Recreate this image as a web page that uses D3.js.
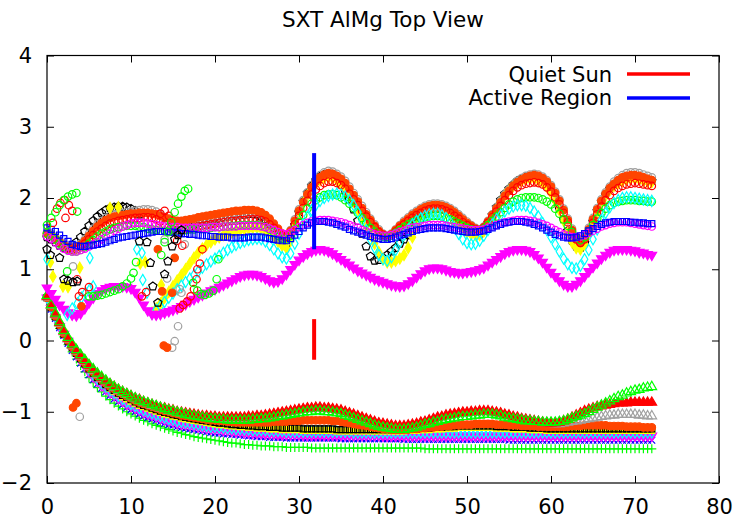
<!DOCTYPE html>
<html>
<head>
<meta charset="utf-8">
<script src="https://cdn.jsdelivr.net/npm/d3@7"></script>
<style>
  body { margin: 0; background: #fff; }
  text { font-family: "DejaVu Sans", "Liberation Sans", Arial, sans-serif; fill: #000; }
</style>
</head>
<body>
<svg id="chart" width="743" height="520"></svg>
<script>
// ---- axis ticks ----
const xTickValues = [0, 10, 20, 30, 40, 50, 60, 70, 80];
const yTickValues = [-2, -1, 0, 1, 2, 3, 4];
const titleText = "SXT AlMg Top View";

// ---- sampling grid: every curve is sampled at x = 0, 0.5, ... 72 ----
const sampleX = d3.range(145).map(i => i * 0.5);

// ---- upper family (ratio curves) ----
const upGray = [
  1.52,1.5,1.45,1.4,1.36,1.33,1.32,1.33,1.36,1.42,
  1.5,1.57,1.63,1.68,1.72,1.75,1.77,1.78,1.79,1.8,
  1.81,1.82,1.83,1.84,1.84,1.83,1.81,1.77,1.72,1.67,
  1.63,1.61,1.6,1.61,1.62,1.64,1.66,1.67,1.69,1.7,
  1.71,1.72,1.73,1.74,1.75,1.76,1.77,1.78,1.79,1.79,
  1.79,1.77,1.74,1.69,1.63,1.56,1.5,1.47,1.55,1.7,
  1.84,1.97,2.08,2.18,2.26,2.32,2.36,2.38,2.37,2.34,
  2.3,2.24,2.16,2.07,1.98,1.89,1.8,1.71,1.63,1.56,
  1.5,1.47,1.5,1.56,1.62,1.68,1.73,1.78,1.82,1.86,
  1.89,1.91,1.92,1.92,1.91,1.89,1.86,1.82,1.77,1.72,
  1.67,1.62,1.58,1.56,1.6,1.68,1.77,1.87,1.96,2.05,
  2.12,2.19,2.24,2.28,2.31,2.33,2.34,2.33,2.3,2.25,
  2.18,2.09,1.98,1.85,1.71,1.57,1.45,1.39,1.45,1.58,
  1.72,1.86,1.98,2.08,2.16,2.23,2.28,2.32,2.35,2.36,
  2.36,2.35,2.33,2.31,2.29];
const upOrange = [
  1.5,1.48,1.43,1.38,1.34,1.31,1.3,1.31,1.34,1.4,
  1.47,1.54,1.6,1.65,1.69,1.72,1.74,1.75,1.76,1.77,
  1.78,1.78,1.79,1.79,1.79,1.78,1.77,1.75,1.73,1.71,
  1.69,1.68,1.68,1.69,1.7,1.71,1.73,1.74,1.75,1.76,
  1.77,1.78,1.79,1.8,1.81,1.82,1.82,1.83,1.83,1.83,
  1.82,1.8,1.76,1.71,1.64,1.57,1.5,1.47,1.54,1.68,
  1.82,1.94,2.05,2.15,2.23,2.29,2.33,2.35,2.34,2.31,
  2.27,2.21,2.13,2.04,1.95,1.86,1.77,1.69,1.61,1.54,
  1.49,1.46,1.49,1.55,1.61,1.66,1.71,1.76,1.8,1.84,
  1.87,1.89,1.9,1.9,1.89,1.87,1.84,1.8,1.75,1.7,
  1.65,1.61,1.57,1.55,1.59,1.67,1.76,1.85,1.94,2.03,
  2.1,2.17,2.22,2.26,2.29,2.31,2.32,2.31,2.28,2.23,
  2.16,2.07,1.96,1.83,1.69,1.55,1.43,1.37,1.43,1.56,
  1.7,1.84,1.96,2.06,2.14,2.2,2.25,2.29,2.31,2.32,
  2.32,2.31,2.29,2.27,2.25];
const upRed = [
  1.5,1.47,1.42,1.37,1.32,1.29,1.27,1.28,1.31,1.36,
  1.42,1.48,1.53,1.57,1.61,1.64,1.66,1.68,1.69,1.7,
  1.71,1.72,1.72,1.73,1.73,1.72,1.7,1.67,1.63,1.59,
  1.56,1.55,1.55,1.56,1.57,1.58,1.6,1.61,1.62,1.63,
  1.64,1.65,1.66,1.67,1.68,1.68,1.69,1.69,1.7,1.7,
  1.7,1.69,1.67,1.63,1.58,1.52,1.47,1.45,1.51,1.63,
  1.75,1.86,1.96,2.05,2.12,2.17,2.21,2.23,2.23,2.21,
  2.18,2.13,2.06,1.98,1.9,1.82,1.74,1.66,1.59,1.52,
  1.48,1.46,1.48,1.53,1.58,1.63,1.68,1.72,1.76,1.79,
  1.82,1.84,1.85,1.85,1.84,1.82,1.79,1.75,1.71,1.66,
  1.62,1.58,1.56,1.55,1.58,1.65,1.73,1.81,1.89,1.97,
  2.04,2.1,2.15,2.18,2.2,2.21,2.22,2.21,2.19,2.15,
  2.09,2.01,1.91,1.79,1.66,1.53,1.42,1.37,1.42,1.53,
  1.65,1.77,1.88,1.97,2.04,2.1,2.14,2.17,2.19,2.2,
  2.21,2.2,2.19,2.18,2.17];
const upYellow = [
  null,null,null,null,null,null,null,null,null,null,
  null,null,null,null,null,null,null,null,null,null,
  null,null,null,null,null,0.39,0.45,0.52,0.6,0.68,
  0.76,0.84,0.92,1.0,1.08,1.16,1.23,1.29,1.34,1.38,
  1.42,1.45,1.48,1.5,1.52,1.54,1.55,1.56,1.57,1.58,
  1.58,1.57,1.55,1.51,1.45,1.39,1.33,1.3,1.4,1.6,
  1.8,1.93,2.04,2.13,2.2,2.25,2.28,2.29,2.28,2.25,
  2.2,2.13,2.04,1.94,1.83,1.72,1.6,1.48,1.36,1.24,
  1.14,1.1,1.1,1.12,1.15,1.2,1.3,1.45,1.6,1.72,
  1.8,1.84,1.86,1.87,1.86,1.83,1.78,1.72,1.65,1.58,
  1.52,1.49,1.48,1.48,1.53,1.63,1.74,1.85,1.95,2.04,
  2.11,2.17,2.21,2.24,2.26,2.27,2.27,2.25,2.22,2.16,
  2.07,1.96,1.83,1.68,1.52,1.38,1.3,1.28,1.35,1.5,
  1.65,1.8,1.93,2.03,2.11,2.17,2.21,2.24,2.26,2.27,
  2.27,2.26,2.24,2.23,2.22];
const upBlack = [
  1.45,1.42,1.38,1.33,1.3,1.3,1.33,1.38,1.45,1.53,
  1.61,1.68,1.74,1.79,1.83,1.86,1.87,1.88,1.88,1.87,
  1.85,1.82,1.77,null,null,null,null,null,null,null,
  null,null,null,null,1.6,1.63,1.65,1.67,1.69,1.7,
  1.71,1.72,1.73,1.74,1.75,1.76,1.77,1.77,1.78,1.78,
  1.77,1.74,1.7,1.63,1.55,1.46,1.38,1.35,1.45,1.62,
  1.8,1.95,2.07,2.17,2.25,2.3,2.33,2.34,2.33,2.3,
  2.2,2.1,1.98,1.84,1.68,1.5,1.32,1.18,1.12,1.13,
  1.16,1.2,1.25,1.3,1.36,1.42,1.48,1.56,1.64,1.72,
  1.78,1.83,1.86,1.87,1.86,1.83,1.79,1.73,1.67,1.61,
  1.56,1.52,1.5,1.5,1.56,1.65,1.76,1.87,1.97,2.06,
  2.13,2.19,2.24,2.27,2.29,2.3,2.3,2.28,2.25,2.19,
  2.1,1.99,1.85,1.7,1.54,1.4,1.32,1.3,1.37,1.52,
  1.67,1.82,1.95,2.05,2.13,2.19,2.23,2.26,2.28,2.29,
  2.29,2.28,2.26,2.25,2.24];
const upGreen = [
  1.5,1.47,1.42,1.36,1.31,1.27,1.25,1.25,1.27,1.31,
  1.36,1.41,1.46,1.5,1.53,1.56,1.58,1.59,1.6,1.61,
  1.61,1.61,1.6,1.59,1.57,1.56,1.55,1.54,1.54,1.54,
  1.54,1.54,1.55,1.55,1.56,1.56,1.57,1.57,1.58,1.58,
  1.59,1.59,1.6,1.6,1.61,1.61,1.62,1.62,1.62,1.62,
  1.62,1.61,1.59,1.56,1.52,1.47,1.43,1.42,1.47,1.56,
  1.66,1.76,1.85,1.92,1.97,2.01,2.04,2.05,2.05,2.04,
  2.01,1.97,1.92,1.86,1.79,1.72,1.65,1.58,1.53,1.48,
  1.46,1.45,1.47,1.51,1.55,1.59,1.63,1.66,1.69,1.71,
  1.73,1.74,1.75,1.75,1.74,1.72,1.7,1.67,1.64,1.61,
  1.58,1.56,1.55,1.55,1.57,1.62,1.68,1.74,1.8,1.86,
  1.91,1.95,1.98,2.0,2.01,2.01,2.01,2.0,1.98,1.95,
  1.91,1.85,1.78,1.7,1.61,1.52,1.45,1.41,1.45,1.53,
  1.62,1.71,1.79,1.85,1.9,1.93,1.95,1.96,1.97,1.97,
  1.97,1.96,1.96,1.95,1.95];
const upCyan = [
  null,null,null,null,null,null,null,null,null,null,
  null,null,null,null,null,null,null,null,null,null,
  null,null,null,null,null,0.38,0.43,0.48,0.54,0.6,
  0.66,0.72,0.77,0.82,0.87,0.92,0.97,1.02,1.07,1.11,
  1.15,1.19,1.23,1.27,1.31,1.34,1.37,1.39,1.41,1.42,
  1.43,1.42,1.39,1.34,1.28,1.22,1.17,1.15,1.22,1.36,
  1.5,1.63,1.74,1.83,1.9,1.96,2.0,2.03,2.05,2.06,
  2.05,2.02,1.97,1.9,1.8,1.68,1.55,1.42,1.3,1.2,
  1.14,1.12,1.17,1.27,1.38,1.48,1.56,1.63,1.68,1.72,
  1.75,1.77,1.78,1.78,1.76,1.72,1.66,1.58,1.5,1.42,
  1.37,1.35,1.36,1.4,1.47,1.55,1.63,1.7,1.76,1.81,
  1.85,1.88,1.9,1.9,1.89,1.86,1.81,1.74,1.65,1.55,
  1.45,1.35,1.25,1.15,1.07,1.02,1.01,1.05,1.14,1.27,
  1.42,1.56,1.69,1.79,1.87,1.93,1.97,2.0,2.01,2.01,
  2.0,1.99,1.98,1.97,1.96];
const upMagenta = [
  1.46,1.43,1.38,1.33,1.29,1.26,1.25,1.25,1.27,1.29,
  1.32,1.35,1.38,1.42,1.46,1.5,1.54,1.57,1.6,1.62,
  1.64,1.65,1.65,1.65,1.64,1.63,1.62,1.61,1.6,1.6,
  1.59,1.59,1.58,1.58,1.58,1.58,1.58,1.58,1.58,1.59,
  1.59,1.59,1.6,1.6,1.6,1.6,1.61,1.61,1.61,1.61,
  1.61,1.6,1.59,1.57,1.55,1.52,1.5,1.49,1.51,1.55,
  1.59,1.62,1.65,1.67,1.68,1.69,1.69,1.69,1.68,1.67,
  1.66,1.64,1.62,1.6,1.58,1.55,1.53,1.51,1.49,1.48,
  1.47,1.47,1.48,1.5,1.52,1.54,1.56,1.58,1.59,1.6,
  1.61,1.62,1.62,1.62,1.62,1.61,1.6,1.59,1.58,1.57,
  1.56,1.55,1.55,1.55,1.56,1.58,1.6,1.62,1.64,1.66,
  1.67,1.68,1.69,1.69,1.69,1.68,1.67,1.65,1.63,1.61,
  1.58,1.55,1.52,1.49,1.47,1.45,1.45,1.46,1.48,1.51,
  1.54,1.57,1.6,1.62,1.64,1.65,1.66,1.66,1.66,1.65,
  1.64,1.63,1.62,1.61,1.6];
const upBlue = [
  1.58,1.56,1.53,1.48,1.43,1.39,1.35,1.33,1.32,1.32,
  1.33,1.34,1.35,1.36,1.38,1.4,1.42,1.44,1.45,1.46,
  1.47,1.48,1.49,1.5,1.51,1.52,1.53,1.53,1.53,1.52,
  1.52,1.51,1.5,1.5,1.49,1.49,1.48,1.47,1.47,1.46,
  1.46,1.45,1.45,1.45,1.44,1.44,1.44,1.44,1.45,1.45,
  1.45,1.45,1.44,1.43,1.42,1.41,1.4,1.4,1.43,1.48,
  1.53,1.58,1.62,1.65,1.67,1.67,1.67,1.66,1.65,1.63,
  1.61,1.59,1.56,1.54,1.52,1.5,1.48,1.46,1.44,1.43,
  1.42,1.42,1.43,1.45,1.47,1.49,1.51,1.53,1.55,1.56,
  1.57,1.58,1.58,1.58,1.58,1.57,1.56,1.55,1.54,1.53,
  1.52,1.52,1.52,1.53,1.54,1.56,1.58,1.61,1.63,1.65,
  1.66,1.67,1.67,1.67,1.66,1.65,1.63,1.61,1.58,1.55,
  1.52,1.49,1.47,1.45,1.44,1.44,1.45,1.47,1.5,1.54,
  1.57,1.6,1.63,1.65,1.66,1.67,1.67,1.67,1.67,1.66,
  1.66,1.65,1.65,1.64,1.64];
const upMagentaTri = [
  0.74,0.66,0.58,0.5,0.44,0.39,0.36,0.35,0.38,0.45,
  0.53,0.6,0.66,0.7,0.73,0.75,0.76,0.76,0.76,0.75,
  0.73,0.68,0.6,0.5,0.42,0.37,0.36,0.37,0.39,0.41,
  0.43,0.45,0.48,0.51,0.55,0.58,0.61,0.64,0.67,0.7,
  0.72,0.75,0.78,0.81,0.84,0.87,0.9,0.92,0.93,0.93,
  0.92,0.9,0.87,0.84,0.82,0.83,0.87,0.93,1.0,1.07,
  1.13,1.18,1.22,1.25,1.27,1.28,1.27,1.25,1.22,1.18,
  1.14,1.1,1.06,1.02,0.98,0.95,0.92,0.89,0.86,0.84,
  0.82,0.8,0.78,0.77,0.76,0.77,0.8,0.84,0.89,0.94,
  0.98,1.01,1.02,1.02,1.01,0.99,0.97,0.96,0.95,0.95,
  0.96,0.97,0.98,1.0,1.02,1.06,1.1,1.14,1.18,1.22,
  1.25,1.27,1.28,1.28,1.27,1.25,1.21,1.16,1.1,1.03,
  0.96,0.9,0.84,0.79,0.76,0.76,0.79,0.84,0.9,0.97,
  1.03,1.09,1.15,1.2,1.24,1.27,1.28,1.28,1.28,1.27,
  1.26,1.24,1.23,1.21,1.2];

// ---- lower family (decay curves) ----
const lowGreenTri = [
  0.63,0.5,0.38,0.26,0.14,0.04,-0.05,-0.13,-0.2,-0.27,
  -0.34,-0.4,-0.46,-0.51,-0.56,-0.61,-0.65,-0.69,-0.72,-0.75,
  -0.78,-0.81,-0.84,-0.86,-0.88,-0.9,-0.92,-0.94,-0.96,-0.98,
  -0.99,-1.01,-1.02,-1.04,-1.05,-1.06,-1.07,-1.08,-1.09,-1.1,
  -1.1,-1.11,-1.11,-1.12,-1.12,-1.12,-1.12,-1.12,-1.12,-1.11,
  -1.11,-1.1,-1.1,-1.09,-1.08,-1.07,-1.06,-1.05,-1.04,-1.03,
  -1.02,-1.01,-1.0,-1.0,-0.99,-0.99,-1.0,-1.0,-1.01,-1.02,
  -1.03,-1.05,-1.07,-1.09,-1.11,-1.13,-1.15,-1.17,-1.19,-1.21,
  -1.22,-1.23,-1.24,-1.25,-1.25,-1.25,-1.24,-1.23,-1.22,-1.2,
  -1.18,-1.17,-1.15,-1.14,-1.12,-1.11,-1.1,-1.09,-1.08,-1.07,
  -1.07,-1.06,-1.05,-1.05,-1.04,-1.04,-1.04,-1.05,-1.06,-1.08,
  -1.09,-1.1,-1.11,-1.12,-1.13,-1.13,-1.14,-1.14,-1.15,-1.15,
  -1.15,-1.15,-1.14,-1.13,-1.11,-1.09,-1.07,-1.05,-1.03,-1.0,
  -0.97,-0.94,-0.91,-0.88,-0.85,-0.82,-0.79,-0.77,-0.74,-0.72,
  -0.7,-0.69,-0.67,-0.66,-0.65];
const lowRedTri = [
  0.62,0.5,0.37,0.25,0.13,0.03,-0.06,-0.14,-0.21,-0.28,
  -0.35,-0.41,-0.47,-0.52,-0.57,-0.61,-0.65,-0.69,-0.72,-0.75,
  -0.78,-0.81,-0.83,-0.86,-0.88,-0.9,-0.92,-0.94,-0.95,-0.97,
  -0.98,-1.0,-1.01,-1.02,-1.03,-1.04,-1.05,-1.06,-1.06,-1.07,
  -1.07,-1.08,-1.08,-1.08,-1.08,-1.08,-1.08,-1.08,-1.07,-1.07,
  -1.06,-1.06,-1.05,-1.04,-1.03,-1.02,-1.01,-1.0,-0.99,-0.98,
  -0.97,-0.96,-0.95,-0.95,-0.94,-0.94,-0.95,-0.95,-0.96,-0.97,
  -0.98,-1.0,-1.02,-1.04,-1.06,-1.08,-1.1,-1.12,-1.14,-1.16,
  -1.17,-1.18,-1.19,-1.2,-1.2,-1.2,-1.19,-1.18,-1.17,-1.15,
  -1.14,-1.12,-1.1,-1.08,-1.07,-1.05,-1.04,-1.03,-1.02,-1.01,
  -1.01,-1.0,-1.0,-0.99,-0.99,-0.99,-1.0,-1.01,-1.02,-1.04,
  -1.05,-1.07,-1.08,-1.1,-1.11,-1.12,-1.13,-1.14,-1.15,-1.16,
  -1.16,-1.16,-1.15,-1.13,-1.11,-1.08,-1.05,-1.02,-0.99,-0.97,
  -0.95,-0.93,-0.92,-0.91,-0.9,-0.89,-0.88,-0.88,-0.88,-0.87,
  -0.87,-0.87,-0.87,-0.87,-0.87];
const lowGrayTri = [
  0.61,0.49,0.36,0.24,0.12,0.02,-0.07,-0.15,-0.22,-0.29,
  -0.36,-0.42,-0.48,-0.53,-0.58,-0.62,-0.66,-0.7,-0.73,-0.76,
  -0.79,-0.82,-0.84,-0.87,-0.89,-0.91,-0.93,-0.95,-0.96,-0.98,
  -0.99,-1.01,-1.02,-1.03,-1.04,-1.05,-1.06,-1.07,-1.07,-1.08,
  -1.08,-1.09,-1.09,-1.09,-1.09,-1.09,-1.09,-1.09,-1.08,-1.08,
  -1.07,-1.07,-1.06,-1.05,-1.04,-1.03,-1.02,-1.01,-1.0,-0.99,
  -0.98,-0.97,-0.96,-0.96,-0.95,-0.95,-0.96,-0.96,-0.97,-0.98,
  -0.99,-1.01,-1.03,-1.05,-1.07,-1.09,-1.11,-1.13,-1.15,-1.17,
  -1.18,-1.19,-1.2,-1.21,-1.21,-1.21,-1.2,-1.19,-1.18,-1.16,
  -1.15,-1.13,-1.11,-1.09,-1.08,-1.06,-1.05,-1.04,-1.03,-1.02,
  -1.02,-1.01,-1.01,-1.0,-1.0,-1.0,-1.01,-1.02,-1.03,-1.05,
  -1.06,-1.08,-1.09,-1.1,-1.11,-1.12,-1.13,-1.14,-1.15,-1.16,
  -1.16,-1.17,-1.17,-1.16,-1.15,-1.14,-1.13,-1.12,-1.11,-1.1,
  -1.09,-1.08,-1.07,-1.06,-1.05,-1.05,-1.04,-1.04,-1.04,-1.04,
  -1.04,-1.05,-1.05,-1.06,-1.06];
const lowOrange = [
  0.6,0.47,0.34,0.22,0.1,0.0,-0.09,-0.17,-0.24,-0.31,
  -0.38,-0.44,-0.5,-0.55,-0.6,-0.64,-0.68,-0.72,-0.75,-0.78,
  -0.81,-0.84,-0.87,-0.89,-0.91,-0.93,-0.95,-0.97,-0.99,-1.0,
  -1.02,-1.03,-1.05,-1.06,-1.07,-1.08,-1.09,-1.1,-1.11,-1.12,
  -1.12,-1.13,-1.13,-1.14,-1.14,-1.15,-1.15,-1.15,-1.15,-1.15,
  -1.15,-1.15,-1.15,-1.15,-1.14,-1.14,-1.14,-1.14,-1.13,-1.13,
  -1.13,-1.12,-1.12,-1.12,-1.12,-1.12,-1.12,-1.12,-1.13,-1.13,
  -1.14,-1.15,-1.16,-1.17,-1.18,-1.19,-1.2,-1.21,-1.22,-1.23,
  -1.24,-1.24,-1.25,-1.25,-1.25,-1.25,-1.25,-1.24,-1.24,-1.23,
  -1.23,-1.22,-1.22,-1.21,-1.21,-1.2,-1.2,-1.19,-1.19,-1.18,
  -1.18,-1.18,-1.17,-1.17,-1.17,-1.17,-1.17,-1.18,-1.18,-1.18,
  -1.19,-1.19,-1.19,-1.2,-1.2,-1.2,-1.2,-1.21,-1.21,-1.21,
  -1.21,-1.21,-1.21,-1.21,-1.21,-1.2,-1.2,-1.2,-1.19,-1.19,
  -1.19,-1.19,-1.19,-1.19,-1.2,-1.2,-1.2,-1.2,-1.21,-1.21,
  -1.21,-1.21,-1.22,-1.22,-1.22];
const lowBlack = [
  0.6,0.46,0.33,0.21,0.09,-0.01,-0.1,-0.18,-0.26,-0.33,
  -0.4,-0.46,-0.52,-0.57,-0.62,-0.66,-0.7,-0.74,-0.77,-0.8,
  -0.83,-0.86,-0.89,-0.91,-0.93,-0.95,-0.97,-0.99,-1.01,-1.02,
  -1.04,-1.05,-1.07,-1.08,-1.09,-1.1,-1.11,-1.12,-1.13,-1.14,
  -1.15,-1.16,-1.16,-1.17,-1.18,-1.18,-1.19,-1.19,-1.2,-1.2,
  -1.21,-1.21,-1.21,-1.22,-1.22,-1.22,-1.23,-1.23,-1.23,-1.23,
  -1.23,-1.24,-1.24,-1.24,-1.24,-1.24,-1.24,-1.24,-1.24,-1.25,
  -1.25,-1.25,-1.25,-1.25,-1.25,-1.25,-1.25,-1.25,-1.25,-1.25,
  -1.25,-1.25,-1.25,-1.25,-1.25,-1.25,-1.24,-1.24,-1.24,-1.23,
  -1.23,-1.23,-1.22,-1.22,-1.22,-1.21,-1.21,-1.21,-1.2,-1.2,
  -1.2,-1.2,-1.2,-1.2,-1.2,-1.2,-1.2,-1.21,-1.21,-1.21,
  -1.21,-1.22,-1.22,-1.22,-1.22,-1.23,-1.23,-1.23,-1.23,-1.24,
  -1.24,-1.24,-1.24,-1.24,-1.24,-1.24,-1.24,-1.24,-1.24,-1.24,
  -1.24,-1.24,-1.24,-1.24,-1.24,-1.24,-1.24,-1.24,-1.24,-1.24,
  -1.24,-1.24,-1.24,-1.24,-1.24];
const lowYellow = [
  0.6,0.47,0.34,0.22,0.11,0.01,-0.08,-0.17,-0.25,-0.32,
  -0.39,-0.46,-0.52,-0.57,-0.62,-0.67,-0.71,-0.75,-0.79,-0.82,
  -0.85,-0.88,-0.91,-0.93,-0.95,-0.97,-0.99,-1.01,-1.03,-1.04,
  -1.06,-1.07,-1.09,-1.1,-1.11,-1.12,-1.13,-1.14,-1.15,-1.16,
  -1.17,-1.18,-1.18,-1.19,-1.2,-1.2,-1.21,-1.21,-1.22,-1.22,
  -1.23,-1.23,-1.23,-1.24,-1.24,-1.24,-1.25,-1.25,-1.25,-1.25,
  -1.25,-1.26,-1.26,-1.26,-1.26,-1.26,-1.26,-1.26,-1.26,-1.27,
  -1.27,-1.27,-1.27,-1.27,-1.27,-1.27,-1.27,-1.27,-1.27,-1.27,
  -1.27,-1.27,-1.27,-1.27,-1.27,-1.27,-1.26,-1.26,-1.26,-1.25,
  -1.25,-1.25,-1.24,-1.24,-1.24,-1.23,-1.23,-1.23,-1.22,-1.22,
  -1.22,-1.22,-1.22,-1.22,-1.22,-1.22,-1.22,-1.23,-1.23,-1.23,
  -1.23,-1.24,-1.24,-1.24,-1.24,-1.25,-1.25,-1.25,-1.25,-1.26,
  -1.26,-1.26,-1.26,-1.26,-1.26,-1.26,-1.26,-1.26,-1.26,-1.26,
  -1.26,-1.26,-1.26,-1.26,-1.26,-1.26,-1.26,-1.26,-1.26,-1.26,
  -1.26,-1.26,-1.26,-1.26,-1.26];
const lowCyan = [
  0.6,0.46,0.33,0.22,0.11,0.01,-0.08,-0.17,-0.25,-0.33,
  -0.41,-0.48,-0.54,-0.6,-0.65,-0.7,-0.74,-0.78,-0.82,-0.86,
  -0.89,-0.92,-0.95,-0.98,-1.0,-1.02,-1.04,-1.06,-1.08,-1.1,
  -1.11,-1.13,-1.14,-1.15,-1.16,-1.17,-1.18,-1.19,-1.2,-1.21,
  -1.21,-1.22,-1.22,-1.23,-1.23,-1.24,-1.24,-1.25,-1.25,-1.26,
  -1.26,-1.26,-1.26,-1.27,-1.27,-1.27,-1.27,-1.28,-1.28,-1.28,
  -1.28,-1.28,-1.28,-1.28,-1.28,-1.28,-1.28,-1.28,-1.28,-1.28,
  -1.28,-1.28,-1.28,-1.29,-1.29,-1.29,-1.29,-1.29,-1.29,-1.29,
  -1.29,-1.29,-1.29,-1.29,-1.29,-1.29,-1.29,-1.29,-1.29,-1.29,
  -1.29,-1.29,-1.29,-1.29,-1.29,-1.29,-1.29,-1.29,-1.29,-1.29,
  -1.29,-1.29,-1.29,-1.29,-1.29,-1.29,-1.29,-1.29,-1.29,-1.29,
  -1.29,-1.29,-1.29,-1.29,-1.29,-1.29,-1.29,-1.29,-1.29,-1.29,
  -1.29,-1.29,-1.29,-1.29,-1.29,-1.29,-1.29,-1.29,-1.29,-1.29,
  -1.29,-1.29,-1.29,-1.29,-1.29,-1.29,-1.29,-1.29,-1.29,-1.29,
  -1.29,-1.29,-1.29,-1.29,-1.29];
const lowMagenta = [
  0.6,0.45,0.32,0.2,0.09,-0.01,-0.11,-0.2,-0.28,-0.36,
  -0.44,-0.51,-0.57,-0.63,-0.68,-0.73,-0.77,-0.81,-0.85,-0.89,
  -0.92,-0.95,-0.98,-1.01,-1.03,-1.05,-1.07,-1.09,-1.11,-1.13,
  -1.14,-1.16,-1.17,-1.18,-1.19,-1.2,-1.21,-1.22,-1.23,-1.24,
  -1.24,-1.25,-1.26,-1.26,-1.27,-1.28,-1.28,-1.29,-1.29,-1.3,
  -1.3,-1.3,-1.31,-1.31,-1.31,-1.32,-1.32,-1.32,-1.32,-1.32,
  -1.32,-1.33,-1.33,-1.33,-1.33,-1.33,-1.33,-1.33,-1.33,-1.33,
  -1.33,-1.33,-1.33,-1.33,-1.33,-1.33,-1.33,-1.33,-1.33,-1.33,
  -1.34,-1.34,-1.34,-1.34,-1.34,-1.34,-1.34,-1.34,-1.34,-1.34,
  -1.34,-1.34,-1.34,-1.34,-1.34,-1.34,-1.34,-1.34,-1.34,-1.34,
  -1.34,-1.34,-1.34,-1.34,-1.34,-1.34,-1.34,-1.34,-1.34,-1.34,
  -1.34,-1.34,-1.34,-1.34,-1.34,-1.34,-1.34,-1.34,-1.34,-1.34,
  -1.34,-1.34,-1.34,-1.34,-1.34,-1.34,-1.34,-1.34,-1.34,-1.34,
  -1.34,-1.34,-1.34,-1.34,-1.34,-1.34,-1.34,-1.34,-1.34,-1.34,
  -1.34,-1.34,-1.34,-1.34,-1.34];
const lowBlue = [
  0.6,0.44,0.31,0.18,0.07,-0.04,-0.14,-0.23,-0.32,-0.4,
  -0.48,-0.55,-0.61,-0.67,-0.72,-0.77,-0.82,-0.86,-0.9,-0.94,
  -0.97,-1.0,-1.03,-1.06,-1.08,-1.1,-1.12,-1.14,-1.16,-1.18,
  -1.19,-1.21,-1.22,-1.23,-1.24,-1.25,-1.26,-1.27,-1.28,-1.29,
  -1.3,-1.3,-1.31,-1.31,-1.32,-1.32,-1.33,-1.33,-1.34,-1.34,
  -1.35,-1.35,-1.35,-1.36,-1.36,-1.36,-1.36,-1.37,-1.37,-1.37,
  -1.37,-1.37,-1.37,-1.37,-1.37,-1.37,-1.37,-1.37,-1.37,-1.37,
  -1.38,-1.38,-1.38,-1.38,-1.38,-1.38,-1.38,-1.38,-1.38,-1.38,
  -1.38,-1.38,-1.38,-1.38,-1.38,-1.39,-1.39,-1.39,-1.39,-1.39,
  -1.39,-1.39,-1.39,-1.39,-1.39,-1.39,-1.39,-1.39,-1.39,-1.39,
  -1.39,-1.39,-1.39,-1.39,-1.39,-1.39,-1.39,-1.39,-1.39,-1.39,
  -1.4,-1.4,-1.4,-1.4,-1.4,-1.4,-1.4,-1.4,-1.4,-1.4,
  -1.4,-1.4,-1.4,-1.4,-1.4,-1.4,-1.4,-1.4,-1.4,-1.4,
  -1.4,-1.4,-1.4,-1.4,-1.4,-1.4,-1.4,-1.4,-1.4,-1.4,
  -1.4,-1.4,-1.4,-1.4,-1.4];
const lowGreenPlus = [
  0.58,0.44,0.3,0.17,0.05,-0.06,-0.16,-0.26,-0.35,-0.44,
  -0.52,-0.59,-0.66,-0.72,-0.78,-0.83,-0.88,-0.92,-0.96,-1.0,
  -1.03,-1.06,-1.09,-1.12,-1.14,-1.17,-1.19,-1.21,-1.23,-1.25,
  -1.27,-1.29,-1.3,-1.32,-1.33,-1.35,-1.36,-1.37,-1.38,-1.39,
  -1.4,-1.41,-1.42,-1.43,-1.44,-1.44,-1.45,-1.46,-1.46,-1.47,
  -1.47,-1.48,-1.48,-1.48,-1.49,-1.49,-1.49,-1.5,-1.5,-1.5,
  -1.5,-1.5,-1.5,-1.51,-1.51,-1.51,-1.51,-1.51,-1.51,-1.51,
  -1.51,-1.51,-1.51,-1.51,-1.51,-1.51,-1.51,-1.51,-1.51,-1.51,
  -1.51,-1.51,-1.51,-1.51,-1.51,-1.51,-1.51,-1.51,-1.51,-1.51,
  -1.52,-1.52,-1.52,-1.52,-1.52,-1.52,-1.52,-1.52,-1.52,-1.52,
  -1.52,-1.52,-1.52,-1.52,-1.52,-1.52,-1.52,-1.52,-1.52,-1.52,
  -1.52,-1.52,-1.52,-1.52,-1.52,-1.52,-1.52,-1.52,-1.52,-1.52,
  -1.52,-1.52,-1.52,-1.52,-1.52,-1.52,-1.52,-1.52,-1.52,-1.52,
  -1.52,-1.52,-1.52,-1.52,-1.52,-1.52,-1.52,-1.52,-1.52,-1.52,
  -1.52,-1.52,-1.52,-1.52,-1.52];

// ---- isolated early points [x, y] ----
const loneRed = [[0.7,1.65],[1.2,1.85],[1.6,1.93],[2.1,1.97],[2.6,1.9],[3.0,1.82],[2.2,1.72],
  [3.6,0.86],[3.8,0.62],[4.2,0.68],[5.0,0.75],[11.3,0.62],[11.8,0.68],[13.5,1.78],[14.0,1.82],
  [14.5,1.75],[15.5,1.4],[16.1,1.33],[15.8,0.45],[16.2,0.5],[16.7,0.55],[17.1,0.62],[17.5,0.72],
  [17.8,0.86],[17.9,1.0],[18.2,1.08],[18.5,1.28]];
const loneGreen = [[0,1.62],[0.5,1.72],[1.0,1.8],[1.5,1.9],[2.0,1.97],[2.5,2.02],[3.0,2.05],[3.5,2.07],
  [3.6,1.81],[2.4,0.97],[5.0,0.62],[5.5,0.62],[6.0,0.63],[6.5,0.64],[7.0,0.66],[7.5,0.68],[8.0,0.7],
  [8.5,0.72],[9.0,0.76],[9.5,0.8],[10.0,0.87],[10.3,0.95],[10.6,1.1],[13.6,1.2],[14.0,1.38],
  [14.4,1.52],[14.8,1.66],[15.2,1.8],[15.6,1.92],[16.0,2.02],[16.4,2.1],[16.8,2.13],[17.4,0.81],
  [17.9,0.7],[18.3,0.65],[18.8,0.64],[19.3,0.66],[19.8,0.7],[20.2,0.86],[20.4,1.14]];
const loneBlack = [[0,1.28],[0.4,1.2],[1.5,1.16],[2.0,0.86],[2.5,0.84],[3.1,0.82],[3.6,0.83],
  [11.0,1.39],[11.9,1.38],[12.3,1.09],[12.6,0.76],[13.2,0.53],[14.0,0.93],[14.4,1.11],[14.9,1.32],
  [15.2,1.42],[15.6,1.48],[16.0,1.55]];
const loneYellow = [[0.4,1.1],[0.7,0.9],[1.9,0.76],[2.5,0.75],[3.9,1.02],[11.1,1.08],[11.7,1.1],
  [13.6,0.78],[7.5,1.86],[8.5,1.87]];
const loneCyan = [[0,1.14],[2.4,0.36],[3.0,0.45],[3.6,0.52],[4.1,0.6],[4.6,0.67],[5.1,0.72],
  [5.5,0.76],[5.1,1.16],[10.7,1.28],[11.3,1.23],[11.4,0.85],[11.9,0.67]];
const loneGray = [[3.1,1.04],[14.0,1.42],[14.3,0.87],[15.8,0.72],[16.0,0.67],[16.4,1.35],
  [15.6,0.2],[15.2,-0.01],[14.9,-0.1],[3.9,-1.07]];
const loneOrange = [[13.2,1.28],[15.2,1.16],[13.7,0.69],[14.9,0.67],[4.1,0.48],
  [13.9,-0.07],[14.3,-0.1],[3.1,-0.94],[3.5,-0.88]];

// ---- the two key segments ----
const quietSunX = [31.8, 31.8];
const quietSunY = [-0.27, 0.3];
const activeRegionX = [31.8, 31.8];
const activeRegionY = [1.28, 2.63];

// ---- colours ----
const C = {
  red: "#ff0000", green: "#00ff00", blue: "#0000ff", magenta: "#ff00ff",
  cyan: "#00ffff", orange: "#ff4500", yellow: "#ffff00", black: "#000000", gray: "#a0a0a0"
};

// ---- scales ----
const x = d3.scaleLinear().domain([0, 80]).range([47, 719]);
const y = d3.scaleLinear().domain([-2, 4]).range([483, 55.5]);

const svg = d3.select("#chart");
svg.append("rect").attr("width", 743).attr("height", 520).attr("fill", "#fff");

// axes (ticks point inward, mirrored on top and right)
const fs = 21;
const fontFam = '"DejaVu Sans", "Liberation Sans", Arial, sans-serif';
const gL = svg.append("g").attr("transform", `translate(${x(0)},0)`)
  .call(d3.axisLeft(y).tickValues(yTickValues).tickSize(-7).tickPadding(15).tickFormat(d3.format("d")));
const gB = svg.append("g").attr("transform", `translate(0,${y(-2)})`)
  .call(d3.axisBottom(x).tickValues(xTickValues).tickSize(-7).tickPadding(16).tickFormat(d3.format("d")));
const gR = svg.append("g").attr("transform", `translate(${x(80)},0)`)
  .call(d3.axisRight(y).tickValues(yTickValues).tickSize(-7).tickFormat(""));
const gT = svg.append("g").attr("transform", `translate(0,${y(4)})`)
  .call(d3.axisTop(x).tickValues(xTickValues).tickSize(-7).tickFormat(""));
[gL, gB, gR, gT].forEach(g => {
  g.select(".domain").remove();
  g.selectAll(".tick line").attr("stroke", "#000");
  g.selectAll("text").attr("font-size", fs).attr("fill", "#000").attr("font-family", fontFam);
});
svg.append("rect")
  .attr("x", x(0)).attr("y", y(4))
  .attr("width", x(80) - x(0)).attr("height", y(-2) - y(4))
  .attr("fill", "none").attr("stroke", "#000").attr("stroke-width", 1.2);

// title
svg.append("text").attr("x", (x(0) + x(80)) / 2).attr("y", 27)
  .attr("text-anchor", "middle").attr("font-size", 21.5).text(titleText);

// ---- marker shapes ----
function pentagonPath(r) {
  const pts = d3.range(5).map(i => {
    const a = -Math.PI / 2 + i * 2 * Math.PI / 5;
    return [r * Math.cos(a), r * Math.sin(a)];
  });
  return "M" + pts.map(p => p.join(",")).join("L") + "Z";
}
const shapes = {
  circle: d3.symbol(d3.symbolCircle, 44)(),
  triangle: d3.symbol(d3.symbolTriangle, 40)(),
  diamond: d3.symbol(d3.symbolDiamond, 36)(),
  square: d3.symbol(d3.symbolSquare, 36)(),
  pentagon: pentagonPath(4.3),
  plus: "M-4.5,0H4.5M0,-4.5V4.5",
  cross: "M-3.4,-3.4L3.4,3.4M-3.4,3.4L3.4,-3.4"
};

const plotLayer = svg.append("g");
function drawPoints(pts, color, shape, filled, rotate) {
  plotLayer.append("g").selectAll("path")
    .data(pts.filter(p => p[1] !== null))
    .join("path")
    .attr("d", shapes[shape])
    .attr("transform", p => `translate(${x(p[0])},${y(p[1])})` + (rotate ? " rotate(180)" : ""))
    .attr("fill", filled ? color : "none")
    .attr("stroke", color)
    .attr("stroke-width", 1.2);
}
const onGrid = vals => vals.map((v, i) => [sampleX[i], v]);

// lower family
const lowerSeries = [
  [lowGreenPlus, C.green, "plus", false],
  [lowBlue, C.blue, "cross", false],
  [lowMagenta, C.magenta, "triangle", true, true],
  [lowCyan, C.cyan, "diamond", false],
  [lowYellow, C.yellow, "square", true],
  [lowBlack, C.black, "square", false],
  [lowOrange, C.orange, "circle", true],
  [lowGrayTri, C.gray, "triangle", false],
  [lowRedTri, C.red, "triangle", true],
  [lowGreenTri, C.green, "triangle", false]
];
lowerSeries.forEach(s => drawPoints(onGrid(s[0]), s[1], s[2], s[3], s[4]));

// upper family
const upperSeries = [
  [upBlack, C.black, "pentagon", false],
  [upYellow, C.yellow, "diamond", true],
  [upGray, C.gray, "circle", false],
  [upOrange, C.orange, "circle", true],
  [upRed, C.red, "circle", false],
  [upGreen, C.green, "circle", false],
  [upCyan, C.cyan, "diamond", false],
  [upMagenta, C.magenta, "circle", false],
  [upBlue, C.blue, "square", false],
  [upMagentaTri, C.magenta, "triangle", true, true]
];
upperSeries.forEach(s => drawPoints(onGrid(s[0]), s[1], s[2], s[3], s[4]));

// isolated points
drawPoints(loneYellow, C.yellow, "diamond", true);
drawPoints(loneCyan, C.cyan, "diamond", false);
drawPoints(loneGray, C.gray, "circle", false);
drawPoints(loneOrange, C.orange, "circle", true);
drawPoints(loneRed, C.red, "circle", false);
drawPoints(loneGreen, C.green, "circle", false);
drawPoints(loneBlack, C.black, "pentagon", false);

// key segments
const seg = d3.line().x(d => x(d[0])).y(d => y(d[1]));
svg.append("path").datum(d3.zip(quietSunX, quietSunY)).attr("d", seg)
  .attr("stroke", C.red).attr("stroke-width", 4).attr("fill", "none");
svg.append("path").datum(d3.zip(activeRegionX, activeRegionY)).attr("d", seg)
  .attr("stroke", C.blue).attr("stroke-width", 4).attr("fill", "none");

// legend
const legend = [
  { label: "Quiet Sun", color: C.red, baseline: 81.5, lineY: 74 },
  { label: "Active Region", color: C.blue, baseline: 105, lineY: 98 }
];
const lg = svg.append("g");
legend.forEach(d => {
  lg.append("text").attr("x", 612).attr("y", d.baseline).attr("text-anchor", "end")
    .attr("font-size", fs).text(d.label);
  lg.append("line").attr("x1", 627).attr("x2", 690).attr("y1", d.lineY).attr("y2", d.lineY)
    .attr("stroke", d.color).attr("stroke-width", 3.5);
});
</script>
</body>
</html>
